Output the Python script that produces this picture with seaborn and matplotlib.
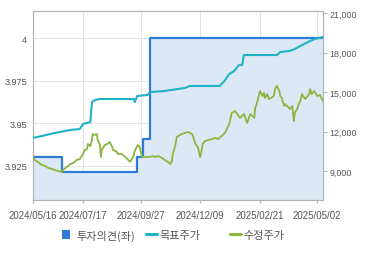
import matplotlib
matplotlib.use("Agg")
import matplotlib.pyplot as plt
from matplotlib.patches import Patch
from matplotlib.lines import Line2D
import seaborn as sns
import pandas as pd

# ---- data ----
opinion_dates = ["2024-05-16", "2024-06-21", "2024-09-22", "2024-09-29", "2024-10-08", "2025-05-10"]
opinion_values = [3.930, 3.921, 3.930, 3.941, 4.0, 4.0]

target_dates = ["2024-05-16", "2024-05-27", "2024-06-12", "2024-07-01", "2024-07-13", "2024-07-17",
                "2024-07-26", "2024-07-28", "2024-08-01", "2024-08-07", "2024-09-18", "2024-09-19",
                "2024-09-22", "2024-10-05", "2024-10-08", "2024-10-26", "2024-11-20", "2024-11-26",
                "2025-01-02", "2025-01-08", "2025-01-14", "2025-01-20", "2025-01-26", "2025-01-30",
                "2025-02-01", "2025-03-14", "2025-03-18", "2025-03-30", "2025-04-05", "2025-04-12",
                "2025-04-24", "2025-04-30", "2025-05-10"]
target_values = [11530, 11680, 11910, 12140, 12210, 12590,
                 12740, 14260, 14420, 14490, 14490, 14260,
                 14720, 14800, 15020, 15100, 15330, 15480,
                 15480, 15860, 16390, 16620, 17080, 17080,
                 17830, 17830, 18060, 18140, 18290, 18520,
                 18900, 19050, 19200]

price_dates = ["2024-05-16", "2024-05-18", "2024-05-22", "2024-05-27", "2024-05-31", "2024-06-04",
               "2024-06-08", "2024-06-12", "2024-06-16", "2024-06-21", "2024-06-22", "2024-06-27",
               "2024-07-01", "2024-07-05", "2024-07-09", "2024-07-13", "2024-07-17", "2024-07-19",
               "2024-07-22", "2024-07-23", "2024-07-26", "2024-07-28", "2024-07-29", "2024-08-01",
               "2024-08-03", "2024-08-04", "2024-08-07", "2024-08-08", "2024-08-09", "2024-08-13",
               "2024-08-16", "2024-08-19", "2024-08-22", "2024-08-23", "2024-08-28", "2024-08-29",
               "2024-09-03", "2024-09-07", "2024-09-11", "2024-09-13", "2024-09-17", "2024-09-19",
               "2024-09-22", "2024-09-23", "2024-09-25", "2024-09-28", "2024-10-04", "2024-10-08",
               "2024-10-12", "2024-10-14", "2024-10-18", "2024-10-23", "2024-10-26", "2024-10-30",
               "2024-11-02", "2024-11-04", "2024-11-05", "2024-11-08", "2024-11-10", "2024-11-12",
               "2024-11-16", "2024-11-20", "2024-11-24", "2024-11-29", "2024-11-30", "2024-12-03",
               "2024-12-06", "2024-12-09", "2024-12-10", "2024-12-12", "2024-12-15", "2024-12-19",
               "2024-12-24", "2024-12-27", "2024-12-31", "2025-01-05", "2025-01-09", "2025-01-11",
               "2025-01-12", "2025-01-14", "2025-01-17", "2025-01-21", "2025-01-24", "2025-01-27",
               "2025-02-01", "2025-02-03", "2025-02-05", "2025-02-09", "2025-02-14", "2025-02-15",
               "2025-02-17", "2025-02-20", "2025-02-21", "2025-02-24", "2025-02-26", "2025-02-27",
               "2025-03-02", "2025-03-04", "2025-03-07", "2025-03-10", "2025-03-12", "2025-03-14",
               "2025-03-17", "2025-03-18", "2025-03-20", "2025-03-23", "2025-03-24", "2025-03-29",
               "2025-03-30", "2025-04-02", "2025-04-04", "2025-04-05", "2025-04-08", "2025-04-10",
               "2025-04-12", "2025-04-14", "2025-04-17", "2025-04-18", "2025-04-23", "2025-04-24",
               "2025-04-26", "2025-04-29", "2025-05-03", "2025-05-06", "2025-05-10"]
price_values = [10090, 9860, 9710, 9480, 9400, 9250,
                9180, 9100, 9020, 8950, 9100, 9330,
                9550, 9630, 9860, 9930, 10310, 10620,
                10690, 11070, 10920, 11380, 11830, 11760,
                11830, 11380, 11000, 10090, 10620, 11000,
                11070, 11230, 10850, 10620, 10470, 10310,
                10310, 10090, 9860, 9710, 10090, 10540,
                10920, 11000, 10850, 10090, 10090, 10090,
                10160, 10090, 10160, 10010, 9860, 9710,
                9550, 9780, 10310, 10920, 11600, 11680,
                11830, 11910, 11990, 11830, 11680, 11070,
                10850, 10090, 10310, 11070, 11300, 11380,
                11450, 11530, 11450, 11700, 11950, 12210,
                12370, 12590, 13430, 13580, 13350, 13050,
                13350, 13050, 12670, 13350, 13050, 13810,
                14110, 14870, 15100, 14720, 14950, 14570,
                14870, 14490, 14570, 14720, 15330, 15480,
                15100, 14720, 14570, 13960, 14110, 13810,
                13730, 13960, 12820, 13430, 13730, 14110,
                14340, 14870, 14570, 14490, 14870, 15250,
                14870, 15100, 14720, 14800, 14340]

x_tick_labels = ["2024/05/16", "2024/07/17", "2024/09/27", "2024/12/09", "2025/02/21", "2025/05/02"]
left_ticks = [3.925, 3.95, 3.975, 4.0]
left_tick_labels = ["3.925", "3.95", "3.975", "4"]
right_ticks = [9000, 12000, 15000, 18000, 21000]

legend_labels = ["투자의견(좌)", "목표주가", "수정주가"]

# ---- style ----
C_OPINION = "#2f7bd6"
C_FILL = "#dde8f7"
C_TARGET = "#1fb3c6"
C_PRICE = "#8ab73f"
C_GRID = "#e3e3e3"
C_SPINE = "#b4b4b4"
C_TEXT = "#555555"

sns.set_theme(style="white")
plt.rcParams['font.family'] = ['Liberation Sans', 'Noto Sans CJK KR', 'DejaVu Sans']

W, H = 370, 255
fig = plt.figure(figsize=(W / 100, H / 100), dpi=100)
ax = fig.add_axes([33 / W, 1 - 201 / H, 290 / W, 189 / H])
ax2 = ax.twinx()

op = pd.DataFrame({"date": pd.to_datetime(opinion_dates), "value": opinion_values})
tg = pd.DataFrame({"date": pd.to_datetime(target_dates), "value": target_values})
pr = pd.DataFrame({"date": pd.to_datetime(price_dates), "value": price_values})

y_lo, y_hi = 3.9048, 4.0161
ax.fill_between(op["date"], op["value"], y_lo, step="post", color=C_FILL, lw=0, zorder=1)
sns.lineplot(data=op, x="date", y="value", ax=ax, color=C_OPINION, lw=1.6,
             drawstyle="steps-post", estimator=None, zorder=3)
sns.lineplot(data=tg, x="date", y="value", ax=ax2, color=C_TARGET, lw=1.5,
             estimator=None, zorder=3)
sns.lineplot(data=pr, x="date", y="value", ax=ax2, color=C_PRICE, lw=1.3,
             estimator=None, zorder=4)

ax.set_xlim(pd.Timestamp("2024-05-16"), pd.Timestamp("2025-05-10"))
ax.set_ylim(y_lo, y_hi)
ax2.set_ylim(6820, 21175)

xt = [pd.Timestamp(s.replace("/", "-")) for s in x_tick_labels]
ax.set_xticks(xt)
ax.set_xticklabels(x_tick_labels)
ax.set_yticks(left_ticks)
ax.set_yticklabels(left_tick_labels)
ax2.set_yticks(right_ticks)
ax2.set_yticklabels([f"{v:,}" for v in right_ticks])

for a in (ax, ax2):
    a.set_xlabel("")
    a.set_ylabel("")
    for s in a.spines.values():
        s.set_color(C_SPINE)
        s.set_linewidth(0.8)
        s.set_visible(True)

ax.grid(True, axis="both", color=C_GRID, lw=0.8, zorder=0)
ax.set_axisbelow(True)
ax2.grid(False)

ax.tick_params(axis="x", length=2.5, width=0.8, color=C_SPINE, pad=4.5,
               labelsize=7.0, labelcolor=C_TEXT, bottom=True)
ax.tick_params(axis="y", length=0, pad=4.3, labelsize=6.6, labelcolor=C_TEXT, left=True)
ax2.tick_params(axis="y", length=3, width=0.8, color=C_SPINE, pad=1.5,
                labelsize=6.4, labelcolor=C_TEXT, right=True)

# ---- legend (three fixed-width columns) ----
handles = [
    Patch(facecolor=C_OPINION, edgecolor="none"),
    Line2D([], [], color=C_TARGET, lw=2.2),
    Line2D([], [], color=C_PRICE, lw=2.2),
]
lx = [62, 146, 230]
for h, lab, x0 in zip(handles, legend_labels, lx):
    is_patch = isinstance(h, Patch)
    fig.legend([h], [lab], loc="center left", bbox_to_anchor=(x0 / W, 1 - 236 / H),
               frameon=False, borderpad=0, borderaxespad=0,
               handlelength=0.75 if is_patch else 0.95,
               handleheight=0.8 if is_patch else 0.7,
               handletextpad=0.55 if is_patch else 0.3,
               labelcolor=C_TEXT,
               prop={"family": ["Noto Sans CJK KR", "DejaVu Sans"], "size": 8})

fig.savefig("out.png", dpi=100)
